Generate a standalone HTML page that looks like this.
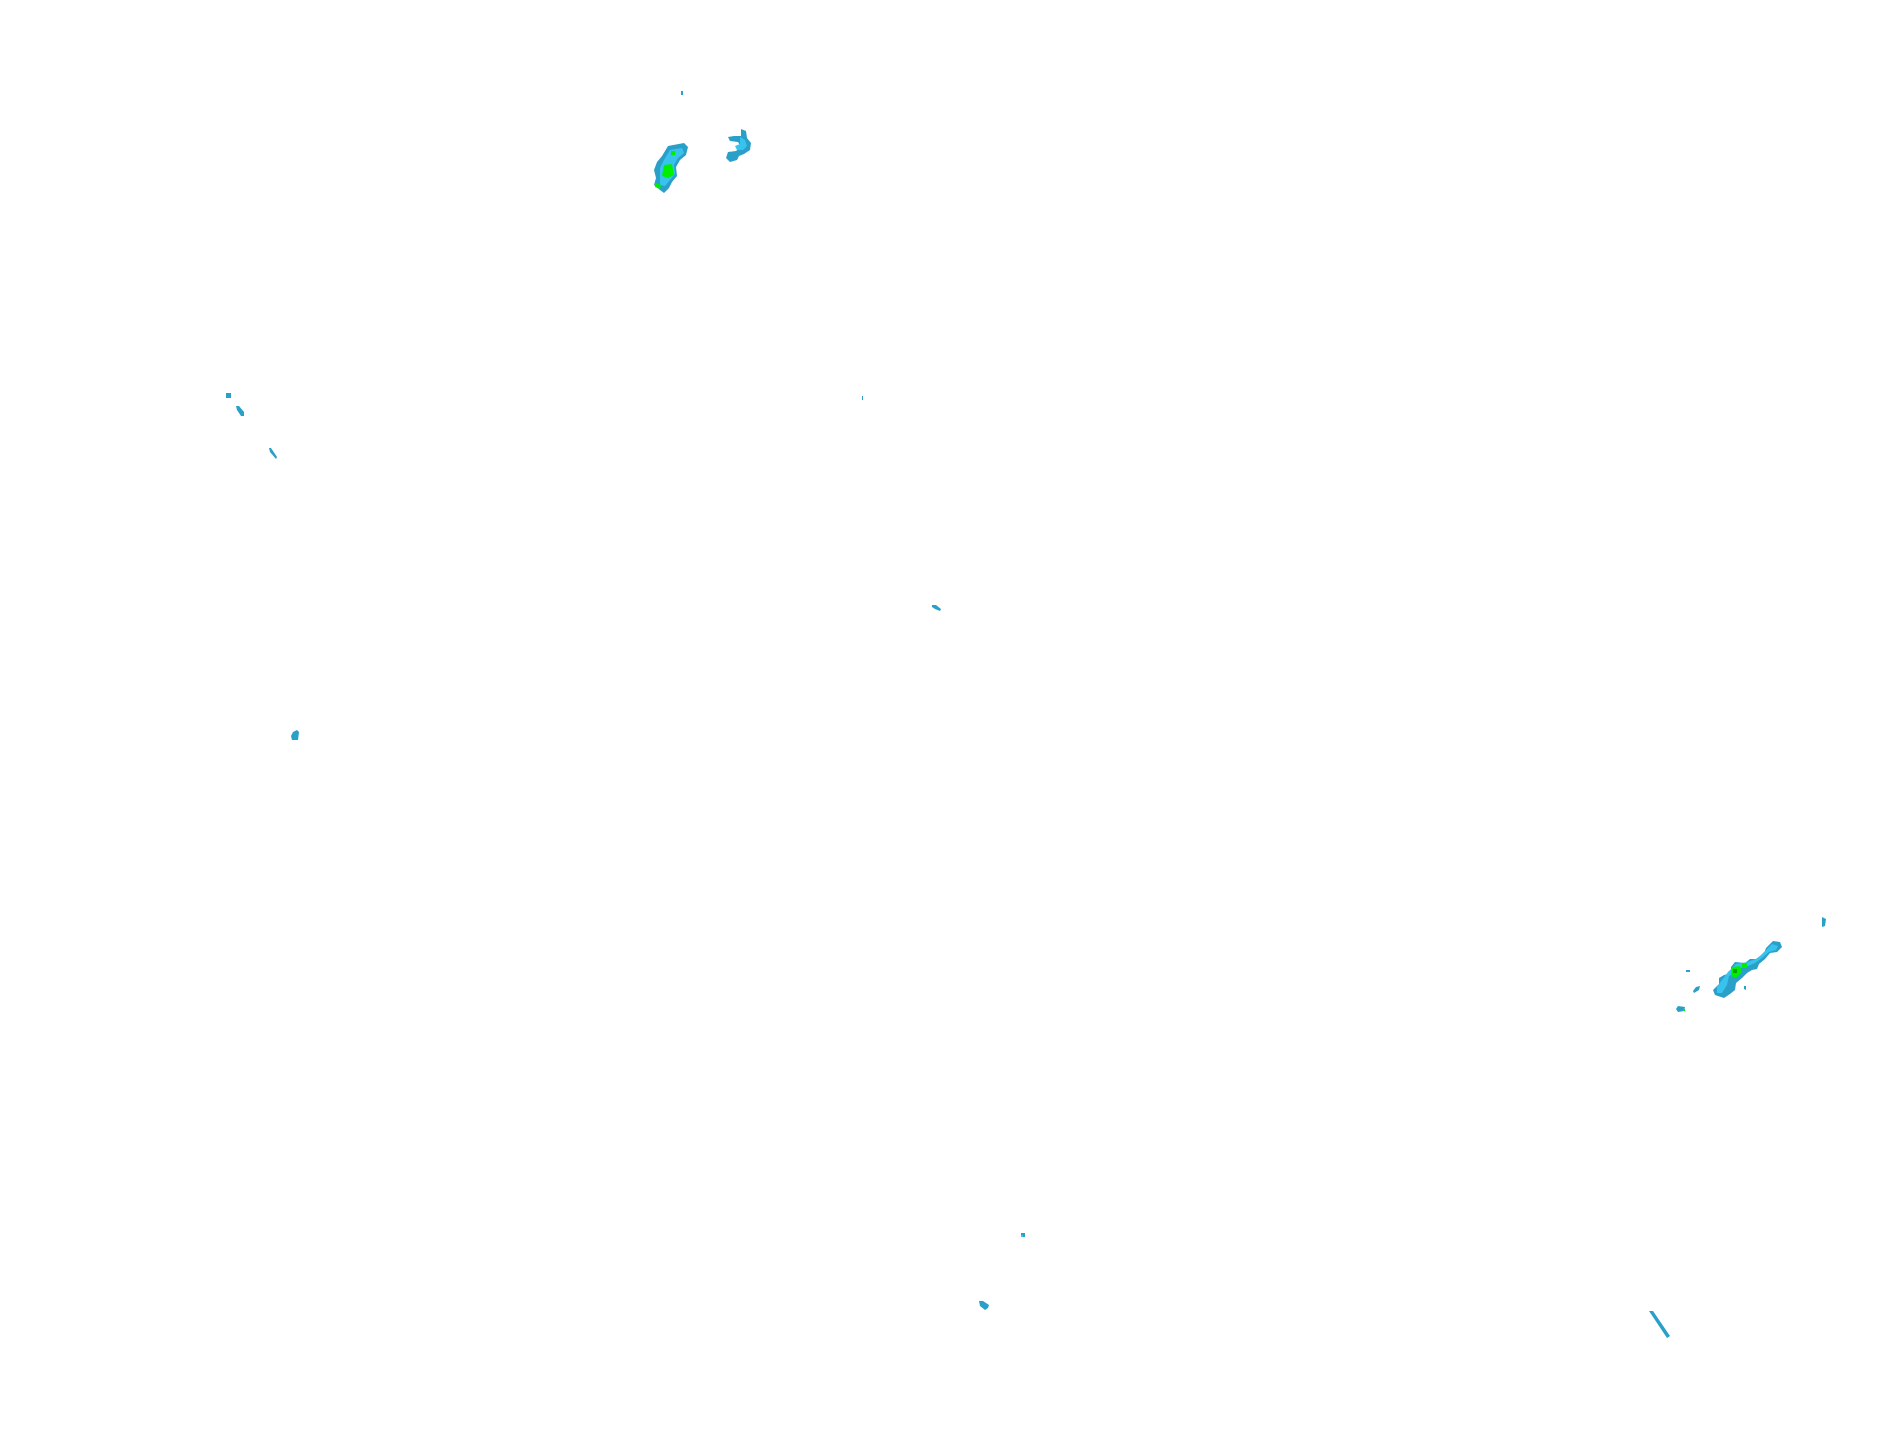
<!DOCTYPE html>
<html><head><meta charset="utf-8"><style>html,body{margin:0;padding:0;background:#fff;width:1904px;height:1441px;overflow:hidden}</style></head>
<body>
<svg width="1904" height="1441" viewBox="0 0 1904 1441" xmlns="http://www.w3.org/2000/svg">
<g fill="#2a9fc8">
<rect x="681" y="91" width="2" height="4"/>
<path d="M668,146 L684,143 L688,147 L686,155 L680,160 L676,167 L677,176 L672,182 L669,188 L664,193 L660,190 L654,185 L656,178 L654,170 L657,162 L662,156 Z"/>
<path d="M741,129 L746,131 L747,138 L751,143 L750,150 L744,154 L739,156 L737,160 L730,162 L726,158 L728,152 L736,151 L741,147 L738,142 L730,141 L728,137 L734,136 L741,136 Z"/>
<path d="M1773,941 L1780,942 L1782,947 L1777,952 L1770,953 L1765,959 L1759,964 L1757,969 L1752,970 L1747,973 L1742,978 L1736,983 L1735,990 L1730,994 L1724,998 L1715,995 L1713,990 L1719,984 L1719,978 L1724,975 L1731,973 L1731,967 L1735,962 L1745,963 L1750,959 L1756,959 L1764,953 L1766,948 Z"/>
<rect x="1686" y="970" width="4" height="2"/>
<path d="M1696,987 L1700,986 L1699,990 L1694,993 L1693,991 Z"/>
<path d="M1678,1006 L1685,1007 L1684,1011 L1678,1012 L1676,1009 Z"/>
<path d="M1822,917 L1826,919 L1825,926 L1822,927 Z"/>
<path d="M1744,986 L1746,986 L1746,990 L1744,989 Z"/>
<rect x="226" y="393" width="5" height="5"/>
<path d="M236,406 L239,406 L244,412 L244,416 L241,416 L237,410 Z"/>
<path d="M269,448 L271,448 L277,457 L276,459 L270,452 Z"/>
<path d="M293,732 L297,730 L299,732 L298,740 L292,740 L291,736 Z"/>
<rect x="862" y="396" width="1" height="4"/>
<path d="M932,605 L936,605 L941,609 L940,611 L935,609 L932,607 Z"/>
<rect x="1021" y="1233" width="4" height="4"/>
<path d="M979,1301 L983,1301 L989,1305 L988,1308 L985,1310 L980,1306 Z"/>
<path d="M1649,1311 L1653,1311 L1670,1336 L1667,1338 Z"/>
</g>
<g fill="#38c2ee">
<path d="M670,150 L682,148 L684,153 L678,158 L674,165 L675,174 L670,180 L665,186 L660,185 L660,176 L660,168 L664,160 Z"/>
<path d="M740,137 L745,140 L747,146 L743,150 L737,150 L735,146 L740,144 Z"/>
<path d="M1772,944 L1778,946 L1776,950 L1769,952 L1762,958 L1755,963 L1748,966 L1740,968 L1736,972 L1729,976 L1727,985 L1722,993 L1717,993 L1717,987 L1722,980 L1728,972 L1736,964 L1748,962 L1758,958 Z"/>
<rect x="1021" y="1235" width="2" height="2"/>
</g>
<g fill="#00ee00">
<path d="M664,165 L672,164 L674,175 L668,178 L662,176 Z"/>
<path d="M655,183 L661,185 L660,189 L655,187 Z"/>
<rect x="671" y="151" width="4" height="4"/>
<rect x="1742" y="963" width="5" height="5"/>
<path d="M1732,967 L1740,966 L1742,972 L1736,978 L1731,976 Z"/>
<rect x="1683" y="1009" width="2" height="2"/>
</g>
<rect x="1733" y="969" width="4" height="4" fill="#00a000"/>
</svg>
</body></html>
